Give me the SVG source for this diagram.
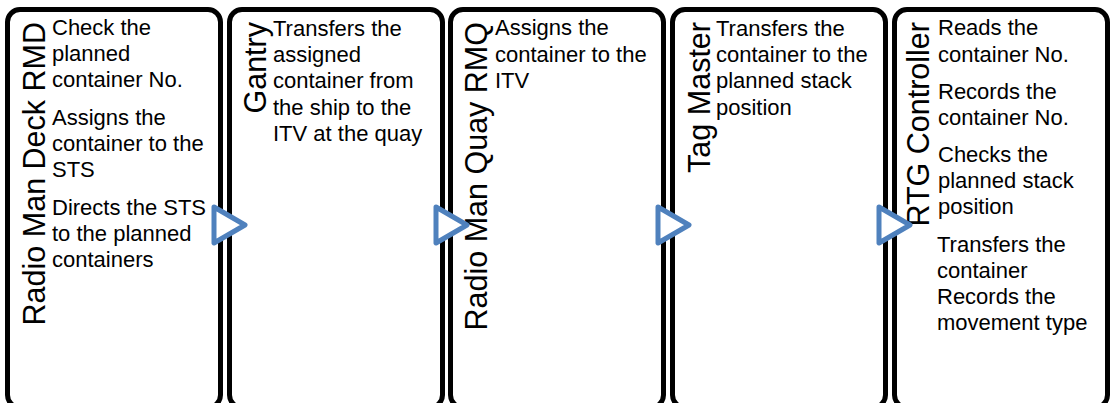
<svg xmlns="http://www.w3.org/2000/svg" width="1112" height="403" viewBox="0 0 1112 403">
  <style>
    .box { fill: #ffffff; stroke: #000000; stroke-width: 5; }
    .title { font-family: "Liberation Sans", Arial, sans-serif; font-size: 30.5px; fill: #000000; text-anchor: end; }
    .body { font-family: "Liberation Sans", Arial, sans-serif; font-size: 22px; fill: #000000; }
    .step { fill: #ffffff; stroke: #4F81BD; stroke-width: 5; stroke-linejoin: round; }
  </style>
  <rect width="1112" height="403" fill="#ffffff"/>

  <!-- Stage 1 -->
  <g id="node-rmd">
    <rect class="box" x="7.5" y="9.5" width="213" height="398" rx="12.5"/>
    <text class="title" transform="translate(45,22) rotate(-90)">Radio Man Deck RMD</text>
    <text class="body">
      <tspan x="52" y="35">Check the</tspan>
      <tspan x="52" y="61">planned</tspan>
      <tspan x="52" y="87">container No.</tspan>
      <tspan x="52" y="125">Assigns the</tspan>
      <tspan x="52" y="151">container to the</tspan>
      <tspan x="52" y="177">STS</tspan>
      <tspan x="52" y="215">Directs the STS</tspan>
      <tspan x="52" y="241">to the planned</tspan>
      <tspan x="52" y="267">containers</tspan>
    </text>
  </g>

  <!-- Stage 2 -->
  <g id="node-gantry">
    <rect class="box" x="229.5" y="9.5" width="213" height="398" rx="12.5"/>
    <text class="title" transform="translate(266,22) rotate(-90)">Gantry</text>
    <text class="body">
      <tspan x="273" y="36">Transfers the</tspan>
      <tspan x="273" y="62">assigned</tspan>
      <tspan x="273" y="88">container from</tspan>
      <tspan x="273" y="115">the ship to the</tspan>
      <tspan x="273" y="141">ITV at the quay</tspan>
    </text>
  </g>

  <!-- Stage 3 -->
  <g id="node-rmq">
    <rect class="box" x="450.5" y="9.5" width="213" height="398" rx="12.5"/>
    <text class="title" transform="translate(487,22) rotate(-90)">Radio Man Quay RMQ</text>
    <text class="body">
      <tspan x="495" y="35">Assigns the</tspan>
      <tspan x="495" y="62">container to the</tspan>
      <tspan x="495" y="88">ITV</tspan>
    </text>
  </g>

  <!-- Stage 4 -->
  <g id="node-tag-master">
    <rect class="box" x="672.5" y="9.5" width="213" height="398" rx="12.5"/>
    <text class="title" transform="translate(710,22) rotate(-90)">Tag Master</text>
    <text class="body">
      <tspan x="716" y="36">Transfers the</tspan>
      <tspan x="716" y="62">container to the</tspan>
      <tspan x="716" y="88">planned stack</tspan>
      <tspan x="716" y="115">position</tspan>
    </text>
  </g>

  <!-- Stage 5 -->
  <g id="node-rtg">
    <rect class="box" x="894.5" y="9.5" width="213" height="398" rx="12.5"/>
    <text class="title" transform="translate(929,22) rotate(-90)">RTG Controller</text>
    <text class="body">
      <tspan x="938" y="35">Reads the</tspan>
      <tspan x="938" y="62">container No.</tspan>
      <tspan x="938" y="99">Records the</tspan>
      <tspan x="938" y="125">container No.</tspan>
      <tspan x="938" y="162">Checks the</tspan>
      <tspan x="938" y="188">planned stack</tspan>
      <tspan x="938" y="214">position</tspan>
      <tspan x="937" y="252">Transfers the</tspan>
      <tspan x="937" y="278">container</tspan>
      <tspan x="937" y="304">Records the</tspan>
      <tspan x="937" y="330">movement type</tspan>
    </text>
  </g>

  <!-- Flow markers between stages -->
  <g id="connectors">
    <polygon class="step" points="214,207 245,225 214,243"/>
    <polygon class="step" points="436,207 467,225 436,243"/>
    <polygon class="step" points="658,207 689,225 658,243"/>
    <polygon class="step" points="879,207 910,225 879,243"/>
  </g>
</svg>
